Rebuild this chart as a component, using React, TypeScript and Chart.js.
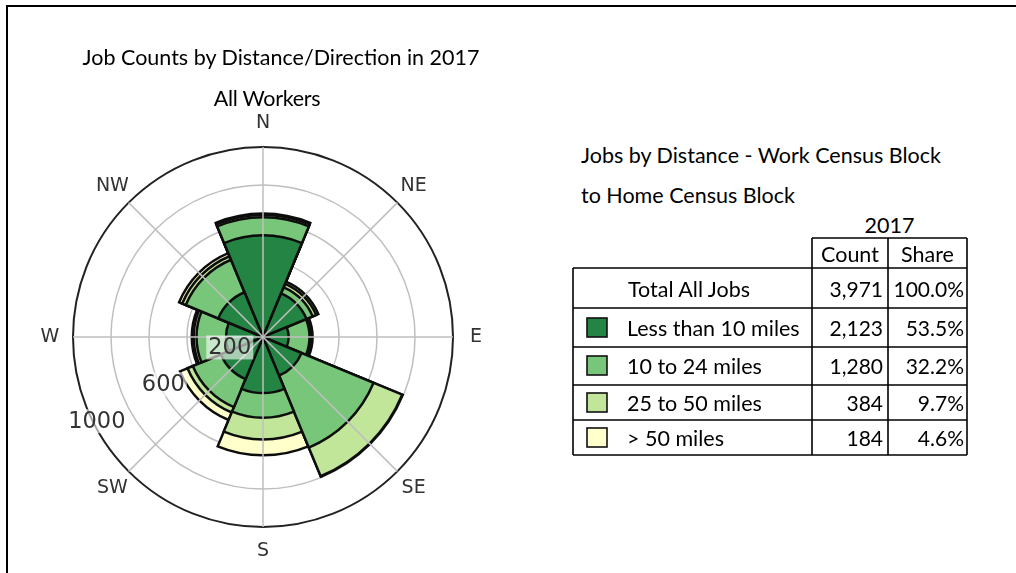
import React, { useEffect, useRef } from 'react';
import { Chart, registerables } from 'chart.js';

Chart.register(...registerables);

// ---------- data ----------
const directions = ['N', 'NE', 'E', 'SE', 'S', 'SW', 'W', 'NW'];
const lessThan10 = [535, 248, 135, 220, 295, 240, 195, 255];
const from10to24 = [95, 35, 110, 410, 130, 160, 155, 185];
const from25to50 = [12, 20, 10, 163, 114, 30, 15, 20];
const over50 = [8, 12, 6, 3, 84, 43, 10, 18];
const radialMax = 1000;
const radialStep = 200;
const tickLabels = [200, 600, 1000];

const seriesNames = ['Less than 10 miles', '10 to 24 miles', '25 to 50 miles', '> 50 miles'];
const seriesColors = ['#238443', '#78c679', '#c2e699', '#ffffcc'];
const tableCounts = ['2,123', '1,280', '384', '184'];
const tableShares = ['53.5%', '32.2%', '9.7%', '4.6%'];
const totalLabel = 'Total All Jobs';
const totalCount = '3,971';
const totalShare = '100.0%';

const chartTitle = 'Job Counts by Distance/Direction in 2017';
const chartSubtitle = 'All Workers';
const tableTitle1 = 'Jobs by Distance - Work Census Block';
const tableTitle2 = 'to Home Census Block';
const tableYear = '2017';

const FONT = "Lato, 'Open Sans', sans-serif";

// cumulative stacks (drawn as overlapping sectors, largest underneath)
const stackSeries = [lessThan10, from10to24, from25to50, over50];
const cumulative = stackSeries.map((_, k) =>
  directions.map((__, i) => stackSeries.slice(0, k + 1).reduce((s, arr) => s + arr[i], 0))
);

const overlayPlugin = {
  id: 'roseOverlay',
  afterDatasetsDraw(chart: any) {
    const s = chart.scales.r;
    const ctx = chart.ctx;
    const cx = s.xCenter;
    const cy = s.yCenter;
    const R = s.getDistanceFromCenterForValue(radialMax);
    ctx.save();
    ctx.strokeStyle = '#bfbfbf';
    ctx.lineWidth = 1.5;
    directions.forEach((_, i) => {
      const a = -Math.PI / 2 + (i * 2 * Math.PI) / directions.length;
      ctx.beginPath();
      ctx.moveTo(cx, cy);
      ctx.lineTo(cx + R * Math.cos(a), cy + R * Math.sin(a));
      ctx.stroke();
    });
    ctx.restore();
  },
  afterDraw(chart: any) {
    const s = chart.scales.r;
    const ctx = chart.ctx;
    const cx = s.xCenter;
    const cy = s.yCenter;
    const R = s.getDistanceFromCenterForValue(radialMax);
    ctx.save();
    // direction labels
    ctx.font = "19px 'DejaVu Sans'";
    ctx.fillStyle = '#333';
    ctx.textAlign = 'center';
    ctx.textBaseline = 'middle';
    directions.forEach((d, i) => {
      const a = -Math.PI / 2 + (i * 2 * Math.PI) / directions.length;
      ctx.fillText(d, cx + (R + 23) * Math.cos(a), cy + (R + 24) * Math.sin(a));
    });
    // radial tick labels
    ctx.font = "22.5px 'DejaVu Sans'";
    const ang = Math.PI - (29 * Math.PI) / 180;
    tickLabels.forEach((v) => {
      const r = s.getDistanceFromCenterForValue(v);
      const x = cx + r * Math.cos(ang);
      const y = cy + r * Math.sin(ang) - 8;
      const w = ctx.measureText(String(v)).width;
      ctx.fillStyle = 'rgba(255,255,255,0.6)';
      ctx.fillRect(x - w / 2 - 2, y - 12, w + 4, 24);
      ctx.fillStyle = '#333';
      ctx.fillText(String(v), x, y + 1);
    });
    ctx.restore();
  },
};

function RoseChart() {
  const ref = useRef<HTMLCanvasElement | null>(null);
  useEffect(() => {
    if (!ref.current) return;
    const chart = new Chart(ref.current, {
      type: 'polarArea',
      data: {
        labels: directions,
        datasets: cumulative.map((d, i) => ({
          label: seriesNames[i],
          data: d,
          backgroundColor: seriesColors[i],
          borderColor: '#0d0d0d',
          borderWidth: 2.5,
          borderJoinStyle: 'miter',
        })),
      },
      options: {
        responsive: false,
        animation: false,
        events: [],
        layout: { padding: { left: 73, top: 147, right: 77, bottom: 46 } },
        plugins: { legend: { display: false }, tooltip: { enabled: false } },
        scales: {
          r: {
            min: 0,
            max: radialMax,
            startAngle: -22.5,
            z: 1,
            ticks: { display: false, stepSize: radialStep },
            grid: {
              circular: true,
              color: (c: any) => (c.tick && c.tick.value === radialMax ? '#222' : '#bfbfbf'),
              lineWidth: (c: any) => (c.tick && c.tick.value === radialMax ? 2 : 1.5),
            },
            angleLines: { display: false },
            pointLabels: { display: false },
          },
        },
      } as any,
      plugins: [overlayPlugin],
    });
    return () => chart.destroy();
  }, []);
  return (
    <canvas
      ref={ref}
      width={530}
      height={573}
      style={{ position: 'absolute', left: 0, top: 0, width: 530, height: 573 }}
    />
  );
}

const txt = (content: string, style: React.CSSProperties, key?: string) => (
  <div
    key={key}
    style={{
      position: 'absolute',
      fontFamily: FONT,
      fontSize: 21.5,
      lineHeight: '26px',
      height: 26,
      color: '#000',
      whiteSpace: 'nowrap',
      ...style,
    }}
  >
    {content}
  </div>
);

export default function App() {
  const rowCenters = [289, 328, 366, 403, 438];
  const hLines = [268, 308, 347, 385, 420, 455];
  const L = 573, C1 = 812, C2 = 888, RR = 967, HT = 238;
  const num: React.CSSProperties = { fontSize: 21 };
  return (
    <div
      style={{
        position: 'absolute',
        left: 0,
        top: 0,
        width: 1016,
        height: 573,
        overflow: 'hidden',
        background: '#fff',
      }}
    >
      <div
        style={{
          position: 'absolute',
          left: 6,
          top: 5,
          width: 1200,
          height: 800,
          borderTop: '2px solid #000',
          borderLeft: '2px solid #000',
        }}
      />
      <RoseChart />
      {txt(chartTitle, { left: 81, width: 400, textAlign: 'center', top: 57 - 13 })}
      {txt(chartSubtitle, { left: 67, width: 400, textAlign: 'center', top: 98 - 13, letterSpacing: -0.3 })}

      {txt(tableTitle1, { left: 581, top: 155 - 13 })}
      {txt(tableTitle2, { left: 581, top: 195 - 13 })}
      {txt(tableYear, { left: C1, width: RR - C1, textAlign: 'center', top: 225 - 13 })}

      <svg width={1016} height={573} style={{ position: 'absolute', left: 0, top: 0 }}>
        <g stroke="#000" strokeWidth={1.6} fill="none">
          <line x1={C1} y1={HT} x2={RR} y2={HT} />
          <line x1={C1} y1={HT} x2={C1} y2={455} />
          <line x1={C2} y1={HT} x2={C2} y2={455} />
          <line x1={RR} y1={HT} x2={RR} y2={455} />
          <line x1={L} y1={268} x2={L} y2={455} />
          {hLines.map((y) => (
            <line key={y} x1={L} y1={y} x2={RR} y2={y} />
          ))}
        </g>
        {seriesColors.map((c, i) => (
          <rect
            key={c}
            x={587}
            y={rowCenters[i + 1] - 10}
            width={20}
            height={19}
            fill={c}
            stroke="#111"
            strokeWidth={1.6}
          />
        ))}
      </svg>

      {txt('Count', { left: C1, width: C2 - C1, textAlign: 'center', top: 254 - 13 })}
      {txt('Share', { left: C2, width: RR - C2, textAlign: 'center', top: 254 - 13 })}

      {txt(totalLabel, { left: 628, top: rowCenters[0] - 13 })}
      {txt(totalCount, { ...num, left: C1, width: 883 - C1, textAlign: 'right', top: rowCenters[0] - 13 })}
      {txt(totalShare, { ...num, left: C2, width: 964 - C2, textAlign: 'right', top: rowCenters[0] - 13 })}

      {seriesNames.map((n, i) => (
        <React.Fragment key={n}>
          {txt(n, { left: 627, top: rowCenters[i + 1] - 13 })}
          {txt(tableCounts[i], { ...num, left: C1, width: 883 - C1, textAlign: 'right', top: rowCenters[i + 1] - 13 })}
          {txt(tableShares[i], { ...num, left: C2, width: 964 - C2, textAlign: 'right', top: rowCenters[i + 1] - 13 })}
        </React.Fragment>
      ))}
    </div>
  );
}
